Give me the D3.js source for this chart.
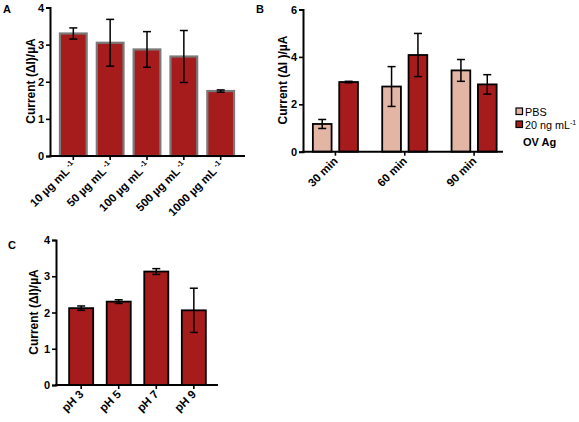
<!DOCTYPE html>
<html><head><meta charset="utf-8">
<script src="https://cdn.jsdelivr.net/npm/d3@7"></script>
<style>
body{margin:0;background:#fff;}
svg{display:block;font-family:"Liberation Sans",Arial,sans-serif;}
</style></head><body>
<svg id="c" width="579" height="422"></svg>
<script>
// Panel A
const catsA = ["10 µg mL", "50 µg mL", "100 µg mL", "500 µg mL", "1000 µg mL"];
const valsA = [3.30, 3.05, 2.87, 2.68, 1.75];
const errA  = [0.15, 0.63, 0.48, 0.70, 0.03];
const ticksA = [0, 1, 2, 3, 4];
// Panel B
const catsB = ["30 min", "60 min", "90 min"];
const seriesB = ["PBS", "20 ng mL"];
const pbsB = [1.17, 2.75, 3.43];
const pbsErrB = [0.19, 0.84, 0.46];
const agB = [2.94, 4.08, 2.84];
const agErrB = [0.03, 0.91, 0.41];
const ticksB = [0, 2, 4, 6];
// Panel C
const catsC = ["pH 3", "pH 5", "pH 7", "pH 9"];
const valsC = [2.12, 2.30, 3.13, 2.06];
const errC  = [0.06, 0.05, 0.08, 0.61];
const ticksC = [0, 1, 2, 3, 4];

const RED = "#a61b1b", PINK = "#e2b5a5";
const svg = d3.select("#c");

function yAxis(g, y, ticks, x0){
  const a = g.append("g").attr("transform", `translate(${x0},0)`)
    .call(d3.axisLeft(y).tickValues(ticks).tickSize(4).tickPadding(2).tickFormat(d3.format("d")));
  a.select(".domain").attr("stroke","#000").attr("stroke-width",2);
  a.selectAll(".tick line").attr("stroke","#000").attr("stroke-width",1.6);
  a.selectAll("text").attr("font-size",11).attr("font-weight","bold").attr("fill","#000");
}
function xAxis(g, x, y0, x0, x1, sup){
  g.append("line").attr("x1",x0-1).attr("x2",x1).attr("y1",y0).attr("y2",y0)
    .attr("stroke","#000").attr("stroke-width",2);
  const cats = x.domain();
  cats.forEach(c=>{
    const cx = x(c) + x.bandwidth()/2;
    g.append("line").attr("x1",cx).attr("x2",cx).attr("y1",y0).attr("y2",y0+4)
      .attr("stroke","#000").attr("stroke-width",1.6);
    const t = g.append("text").attr("text-anchor","end")
      .attr("transform",`translate(${cx+3},${y0+10}) rotate(-45)`)
      .attr("font-size",11.5).attr("font-weight","bold").attr("fill","#000");
    t.append("tspan").text(c);
    if(sup) t.append("tspan").attr("font-size",7.5).attr("dy",-4).text(" -1");
  });
}
function ylabel(g, text, x, y){
  g.append("text").attr("transform",`translate(${x},${y}) rotate(-90)`)
    .attr("text-anchor","middle").attr("font-size",12).attr("font-weight","bold").text(text);
}
function errbar(g, cx, top, bot, cap){
  g.append("line").attr("x1",cx).attr("x2",cx).attr("y1",top).attr("y2",bot).attr("stroke","#000").attr("stroke-width",1.5);
  [top,bot].forEach(yy=>g.append("line").attr("x1",cx-cap).attr("x2",cx+cap).attr("y1",yy).attr("y2",yy).attr("stroke","#000").attr("stroke-width",1.5));
}

// ---- Panel A ----
{
  const g = svg.append("g");
  const y = d3.scaleLinear().domain([0,4]).range([156,7.5]);
  const x = d3.scaleBand().domain(catsA).range([50,244]).paddingInner(0.275).paddingOuter(0.27);
  catsA.forEach((c,i)=>{
    g.append("rect").attr("x",x(c)).attr("y",y(valsA[i])).attr("width",x.bandwidth())
      .attr("height",y(0)-y(valsA[i])).attr("fill",RED).attr("stroke","#7a7a7a").attr("stroke-width",2.2);
  });
  catsA.forEach((c,i)=>{
    const cx = x(c)+x.bandwidth()/2;
    errbar(g, cx, y(valsA[i]+errA[i]), y(valsA[i]-errA[i]), 4);
  });
  xAxis(g, x, 156, 50, 245, true);
  yAxis(g, y, ticksA, 50);
  ylabel(g, "Current (ΔI)/µA", 35, 81);
  g.append("text").attr("x",3).attr("y",13).attr("font-size",11).attr("font-weight","bold").text("A");
}

// ---- Panel B ----
{
  const g = svg.append("g");
  const y = d3.scaleLinear().domain([0,6]).range([151.7,9.5]);
  const x = d3.scaleBand().domain(catsB).range([303.5,506]).paddingInner(0.35).paddingOuter(0.135);
  const xs = d3.scaleBand().domain(seriesB).range([0,x.bandwidth()]).paddingInner(0.29).paddingOuter(0);
  const data = [pbsB, agB], errs = [pbsErrB, agErrB], cols = [PINK, RED];
  catsB.forEach((c,i)=>{
    seriesB.forEach((s,j)=>{
      const v = data[j][i];
      g.append("rect").attr("x",x(c)+xs(s)).attr("y",y(v)).attr("width",xs.bandwidth())
        .attr("height",y(0)-y(v)).attr("fill",cols[j]).attr("stroke","#000").attr("stroke-width",1.8);
    });
  });
  catsB.forEach((c,i)=>{
    seriesB.forEach((s,j)=>{
      const v = data[j][i], e = errs[j][i];
      errbar(g, x(c)+xs(s)+xs.bandwidth()/2, y(v+e), y(v-e), 4);
    });
  });
  xAxis(g, x, 151.7, 303, 503, false);
  yAxis(g, y, ticksB, 303);
  ylabel(g, "Current (ΔI )/µA", 287, 80);
  g.append("text").attr("x",256).attr("y",13).attr("font-size",11).attr("font-weight","bold").text("B");
  // legend
  const lg = g.append("g");
  seriesB.forEach((s,j)=>{
    const yy = 111.5 + j*13;
    lg.append("rect").attr("x",516).attr("y",yy-3.5).attr("width",6.5).attr("height",6.5)
      .attr("fill",cols[j]).attr("stroke","#000").attr("stroke-width",1.2);
    const t = lg.append("text").attr("x",525).attr("y",yy+4).attr("font-size",10.8).text(s);
    if(j===1) t.append("tspan").attr("font-size",7).attr("dy",-4).text("-1");
  });
  lg.append("text").attr("x",523).attr("y",146).attr("font-size",11).attr("font-weight","bold").text("OV Ag");
}

// ---- Panel C ----
{
  const g = svg.append("g");
  const y = d3.scaleLinear().domain([0,4]).range([385,240]);
  const x = d3.scaleBand().domain(catsC).range([56,219]).paddingInner(0.36).paddingOuter(0.35);
  catsC.forEach((c,i)=>{
    g.append("rect").attr("x",x(c)).attr("y",y(valsC[i])).attr("width",x.bandwidth())
      .attr("height",y(0)-y(valsC[i])).attr("fill",RED).attr("stroke","#000").attr("stroke-width",1.8);
  });
  catsC.forEach((c,i)=>{
    errbar(g, x(c)+x.bandwidth()/2, y(valsC[i]+errC[i]), y(valsC[i]-errC[i]), 4);
  });
  xAxis(g, x, 385, 56, 218, false);
  yAxis(g, y, ticksC, 56);
  ylabel(g, "Current (ΔI)/µA", 38, 312);
  g.append("text").attr("x",8).attr("y",249).attr("font-size",11).attr("font-weight","bold").text("C");
}
</script>
</body></html>
